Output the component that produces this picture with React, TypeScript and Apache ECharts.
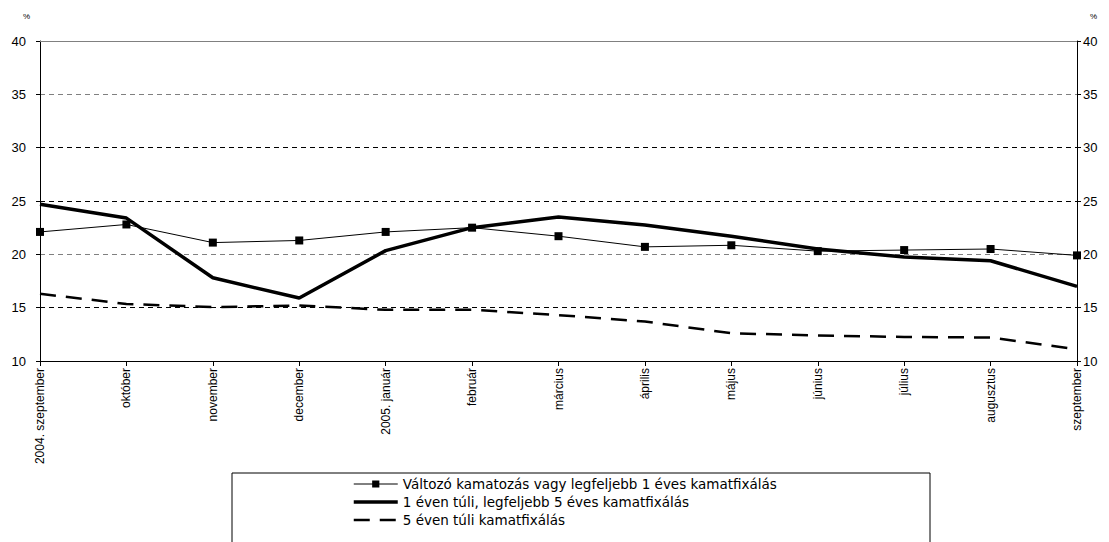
import React, { useEffect, useRef } from "react";
import * as echarts from "echarts";

const categories = [
  "2004. szeptember",
  "október",
  "november",
  "december",
  "2005. január",
  "február",
  "március",
  "április",
  "május",
  "június",
  "július",
  "augusztus",
  "szeptember",
];

const seriesNames = [
  "Változó kamatozás vagy legfeljebb 1 éves kamatfixálás",
  "1 éven túli, legfeljebb 5 éves kamatfixálás",
  "5 éven túli kamatfixálás",
];

const variableRate = [22.1, 22.8, 21.1, 21.3, 22.1, 22.5, 21.7, 20.7, 20.85, 20.3, 20.4, 20.5, 19.9];
const fixedOneToFive = [24.7, 23.4, 17.8, 15.9, 20.35, 22.5, 23.5, 22.75, 21.7, 20.5, 19.75, 19.4, 17.0];
const fixedOverFive = [16.3, 15.35, 15.05, 15.2, 14.8, 14.8, 14.3, 13.7, 12.6, 12.4, 12.25, 12.2, 11.1];

const yMin = 10;
const yMax = 40;
const yStep = 5;

const FONT = "Liberation Sans, Arial, sans-serif";

const thinLine = { color: "#000", width: 1 };
const thickLine = { color: "#000", width: 3.5 };
const dashedLine = { color: "#000", width: 2.5, type: [16, 10] as number[] };

export default function App() {
  const ref = useRef<HTMLDivElement>(null);

  useEffect(() => {
    if (!ref.current) return;
    const chart = echarts.init(ref.current, undefined, { renderer: "svg" });

    const yAxisBase = {
      type: "value" as const,
      min: yMin,
      max: yMax,
      interval: yStep,
      axisLine: { show: true, lineStyle: { color: "#000", width: 1 } },
      axisTick: { show: true, inside: false, length: 4, lineStyle: { color: "#000" } },
    };

    chart.setOption({
      animation: false,
      backgroundColor: "#fff",
      grid: { left: 40, right: 32, top: 41, bottom: 181, containLabel: false },
      xAxis: [
        {
          type: "category",
          data: categories,
          boundaryGap: false,
          axisLine: { show: true, lineStyle: { color: "#000", width: 1 } },
          axisTick: { show: true, inside: false, length: 5, alignWithLabel: true, lineStyle: { color: "#000" } },
          axisLabel: {
            rotate: 90,
            interval: 0,
            color: "#000",
            fontFamily: FONT,
            fontSize: 12,
            margin: 7,
          },
          splitLine: { show: false },
        },
        {
          type: "category",
          data: categories,
          boundaryGap: false,
          position: "top",
          axisLine: { show: true, lineStyle: { color: "#808080", width: 1 } },
          axisTick: { show: false },
          axisLabel: { show: false },
          splitLine: { show: false },
        },
      ],
      yAxis: [
        {
          ...yAxisBase,
          position: "left",
          axisLabel: { color: "#000", fontFamily: FONT, fontSize: 13, margin: 14 },
          splitLine: {
            show: true,
            lineStyle: {
              color: ["#000", "#000", "#808080", "#000", "#000", "#808080", "#808080"],
              type: [5, 4],
              width: 1,
            },
          },
        },
        {
          ...yAxisBase,
          position: "right",
          axisLabel: { color: "#000", fontFamily: FONT, fontSize: 13, margin: 6 },
          splitLine: { show: false },
        },
      ],
      legend: {
        orient: "vertical",
        left: 352,
        top: 477,
        height: 120,
        padding: 0,
        itemWidth: 44,
        itemHeight: 9,
        itemGap: 4,
        textStyle: { color: "#000", fontFamily: "DejaVu Sans, sans-serif", fontSize: 13.5 },
        data: [
          { name: seriesNames[0], lineStyle: thinLine },
          { name: seriesNames[1], itemStyle: { opacity: 0 }, lineStyle: thickLine },
          { name: seriesNames[2], itemStyle: { opacity: 0 }, lineStyle: dashedLine },
        ],
      },
      graphic: [
        {
          type: "rect",
          shape: { x: 232, y: 473, width: 698, height: 90 },
          style: { fill: "none", stroke: "#000", lineWidth: 1 },
          silent: true,
          z: -1,
        },
        {
          type: "text",
          left: 23,
          top: 12,
          style: { text: "%", fill: "#000", font: `8px ${FONT}` },
        },
        {
          type: "text",
          left: 1090,
          top: 12,
          style: { text: "%", fill: "#000", font: `8px ${FONT}` },
        },
      ],
      series: [
        {
          name: seriesNames[0],
          type: "line",
          data: variableRate,
          symbol: "rect",
          symbolSize: 8,
          showSymbol: true,
          itemStyle: { color: "#000" },
          lineStyle: thinLine,
          z: 4,
        },
        {
          name: seriesNames[1],
          type: "line",
          data: fixedOneToFive,
          symbol: "none",
          itemStyle: { color: "#000" },
          lineStyle: thickLine,
          z: 3,
        },
        {
          name: seriesNames[2],
          type: "line",
          data: fixedOverFive,
          symbol: "none",
          itemStyle: { color: "#000" },
          lineStyle: dashedLine,
          z: 2,
        },
      ],
    });

    return () => chart.dispose();
  }, []);

  return (
    <div
      ref={ref}
      style={{ position: "fixed", left: 0, top: 0, width: 1109, height: 542, background: "#fff" }}
    />
  );
}
